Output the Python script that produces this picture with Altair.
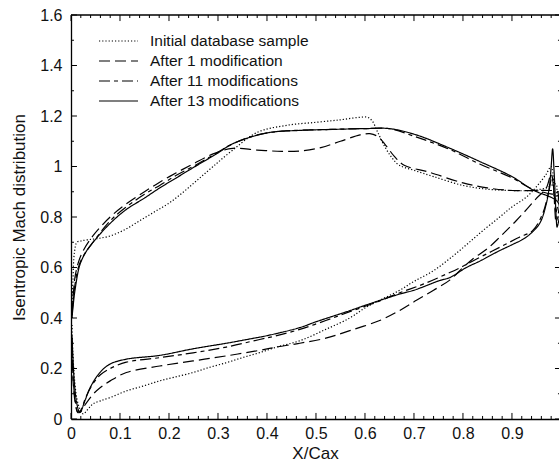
import altair as alt
import pandas as pd

FONT = "Liberation Sans"

series_names = [
    "Initial database sample",
    "After 1 modification",
    "After 11 modifications",
    "After 13 modifications",
]
dash_patterns = [[1.2, 2.0], [11, 5], [11, 4, 4, 4], [1, 0]]

# ---- Initial database sample (dotted) ----
init_suction_x = [0.002, 0.004, 0.007, 0.012, 0.02, 0.035, 0.055, 0.08, 0.11, 0.14, 0.17, 0.2, 0.23, 0.26,
                  0.29, 0.33, 0.38, 0.44, 0.5, 0.55, 0.59, 0.605, 0.615, 0.625, 0.64, 0.655, 0.67, 0.7,
                  0.74, 0.8, 0.85, 0.9, 0.94, 0.97, 0.99]
init_suction_m = [0.40, 0.55, 0.66, 0.70, 0.705, 0.71, 0.715, 0.725, 0.75, 0.785, 0.82, 0.855, 0.9, 0.95,
                  1.0, 1.065, 1.135, 1.163, 1.175, 1.185, 1.195, 1.195, 1.18, 1.14, 1.08, 1.035, 1.005, 0.985,
                  0.96, 0.925, 0.91, 0.905, 0.905, 0.915, 0.93]
init_pressure_x = [0.988, 0.98, 0.97, 0.95, 0.929, 0.9, 0.875, 0.84, 0.807, 0.773, 0.738, 0.7, 0.671, 0.63,
                   0.6, 0.569, 0.52, 0.467, 0.42, 0.385, 0.35, 0.317, 0.28, 0.249, 0.21, 0.181, 0.15, 0.113,
                   0.08, 0.06, 0.045, 0.035, 0.025, 0.018, 0.012, 0.008, 0.005, 0.003, 0.002]
init_pressure_m = [0.86, 1.0, 0.97, 0.92, 0.878, 0.84, 0.80, 0.745, 0.69, 0.635, 0.585, 0.545, 0.51, 0.47,
                   0.44, 0.40, 0.355, 0.31, 0.285, 0.263, 0.243, 0.223, 0.203, 0.184, 0.165, 0.151, 0.132, 0.111,
                   0.085, 0.072, 0.06, 0.04, 0.02, 0.04, 0.08, 0.14, 0.22, 0.3, 0.38]

# ---- After 1 modification (long dash) ----
mod1_suction_x = [0.002, 0.005, 0.008, 0.015, 0.025, 0.045, 0.08, 0.113, 0.15, 0.181, 0.215, 0.249, 0.29,
                  0.33, 0.38, 0.43, 0.47, 0.51, 0.55, 0.59, 0.61, 0.625, 0.64, 0.66, 0.68, 0.73, 0.8, 0.85,
                  0.9, 0.95, 0.975, 0.993]
mod1_suction_m = [0.42, 0.5, 0.56, 0.62, 0.667, 0.726, 0.80, 0.852, 0.90, 0.938, 0.975, 1.01, 1.05,
                  1.072, 1.065, 1.06, 1.062, 1.075, 1.1, 1.125, 1.13, 1.12, 1.09, 1.04, 1.005, 0.978, 0.935, 0.915,
                  0.905, 0.905, 0.905, 0.90]
mod1_pressure_x = [0.99, 0.98, 0.97, 0.949, 0.93, 0.909, 0.888, 0.875, 0.85, 0.82, 0.8, 0.773, 0.74, 0.705,
                   0.671, 0.63, 0.569, 0.52, 0.467, 0.42, 0.385, 0.317, 0.249, 0.181, 0.113, 0.08, 0.06, 0.045,
                   0.03, 0.02, 0.014, 0.009, 0.005, 0.003, 0.002]
mod1_pressure_m = [0.82, 0.97, 0.915, 0.872, 0.83, 0.786, 0.745, 0.72, 0.675, 0.634, 0.6, 0.55, 0.51, 0.47,
                   0.43, 0.39, 0.35, 0.32, 0.30, 0.285, 0.272, 0.25, 0.23, 0.21, 0.184, 0.151, 0.125, 0.098,
                   0.06, 0.03, 0.025, 0.06, 0.13, 0.22, 0.32]

# ---- After 11 modifications (dash-dot) ----
mod11_suction_x = [0.002, 0.005, 0.008, 0.015, 0.025, 0.045, 0.08, 0.113, 0.15, 0.181, 0.215, 0.249, 0.29,
                   0.33, 0.38, 0.43, 0.5, 0.55, 0.6, 0.65, 0.7, 0.77, 0.834, 0.9, 0.942, 0.97, 0.995]
mod11_suction_m = [0.41, 0.48, 0.53, 0.6, 0.645, 0.70, 0.785, 0.84, 0.89, 0.925, 0.965, 1.0, 1.045,
                   1.09, 1.125, 1.14, 1.145, 1.148, 1.15, 1.15, 1.12, 1.07, 1.01, 0.955, 0.91, 0.895, 0.88]
mod11_pressure_x = [0.99, 0.982, 0.975, 0.962, 0.942, 0.915, 0.888, 0.86, 0.834, 0.8, 0.773, 0.72, 0.671,
                    0.62, 0.569, 0.52, 0.467, 0.42, 0.385, 0.317, 0.249, 0.181, 0.113, 0.08, 0.06, 0.045,
                    0.03, 0.02, 0.014, 0.009, 0.005, 0.003, 0.002]
mod11_pressure_m = [0.78, 0.96, 0.90, 0.81, 0.746, 0.72, 0.693, 0.665, 0.64, 0.605, 0.58, 0.535, 0.50,
                    0.46, 0.425, 0.39, 0.355, 0.33, 0.315, 0.285, 0.262, 0.243, 0.225, 0.2, 0.175, 0.14,
                    0.085, 0.035, 0.028, 0.07, 0.14, 0.23, 0.32]

# ---- After 13 modifications (solid) ----
mod13_suction_x = [0.002, 0.005, 0.008, 0.018, 0.03, 0.045, 0.08, 0.113, 0.15, 0.181, 0.215, 0.249, 0.297,
                   0.33, 0.4, 0.467, 0.535, 0.6, 0.65, 0.705, 0.77, 0.834, 0.9, 0.942, 0.995]
mod13_suction_m = [0.40, 0.46, 0.508, 0.61, 0.66, 0.70, 0.775, 0.83, 0.875, 0.915, 0.955, 0.995, 1.05,
                   1.09, 1.133, 1.143, 1.147, 1.15, 1.15, 1.125, 1.075, 1.02, 0.96, 0.908, 0.855]
mod13_pressure_x = [0.992, 0.986, 0.983, 0.98, 0.977, 0.97, 0.956, 0.929, 0.9, 0.875, 0.834, 0.807, 0.773,
                    0.752, 0.7, 0.671, 0.6, 0.569, 0.5, 0.467, 0.4, 0.365, 0.317, 0.249, 0.181, 0.113, 0.08,
                    0.059, 0.039, 0.028, 0.018, 0.012, 0.007, 0.004, 0.002]
mod13_pressure_m = [0.76, 0.98, 1.07, 1.0, 0.931, 0.852, 0.773, 0.72, 0.69, 0.667, 0.625, 0.60, 0.56,
                    0.548, 0.51, 0.495, 0.45, 0.429, 0.385, 0.362, 0.33, 0.317, 0.30, 0.278, 0.252, 0.237, 0.218,
                    0.184, 0.124, 0.07, 0.025, 0.06, 0.14, 0.24, 0.33]

# axis tick positions
x_major = [0.0, 0.1, 0.2, 0.3, 0.4, 0.5, 0.6, 0.7, 0.8, 0.9, 1.0]
x_minor = [0.02, 0.04, 0.06, 0.08, 0.12, 0.14, 0.16, 0.18, 0.22, 0.24, 0.26, 0.28, 0.32, 0.34, 0.36, 0.38,
           0.42, 0.44, 0.46, 0.48, 0.52, 0.54, 0.56, 0.58, 0.62, 0.64, 0.66, 0.68, 0.72, 0.74, 0.76, 0.78,
           0.82, 0.84, 0.86, 0.88, 0.92, 0.94, 0.96, 0.98]
y_major = [0.0, 0.2, 0.4, 0.6, 0.8, 1.0, 1.2, 1.4, 1.6]
y_minor = [0.1, 0.3, 0.5, 0.7, 0.9, 1.1, 1.3, 1.5]

X_MAX = 0.996
Y_MAX = 1.6

rows = []
curves = [
    (series_names[0], init_suction_x + init_pressure_x, init_suction_m + init_pressure_m),
    (series_names[1], mod1_suction_x + mod1_pressure_x, mod1_suction_m + mod1_pressure_m),
    (series_names[2], mod11_suction_x + mod11_pressure_x, mod11_suction_m + mod11_pressure_m),
    (series_names[3], mod13_suction_x + mod13_pressure_x, mod13_suction_m + mod13_pressure_m),
]
for name, xs_, ms_ in curves:
    for i, (xv, mv) in enumerate(zip(xs_, ms_)):
        rows.append({"series": name, "x": xv, "m": mv, "order": i})
df = pd.DataFrame(rows)

x_len_major, x_len_minor = 0.024, 0.012   # tick lengths along y (data units)
y_len_major, y_len_minor = 0.0122, 0.0061  # tick lengths along x (data units)
xt = pd.DataFrame({"v": x_major + x_minor,
                   "len": [x_len_major] * len(x_major) + [x_len_minor] * len(x_minor)})
xt["base"] = 0.0
xt["top"] = Y_MAX
xt["top_end"] = Y_MAX - xt["len"]
yt = pd.DataFrame({"v": y_major + y_minor,
                   "len": [y_len_major] * len(y_major) + [y_len_minor] * len(y_minor)})
yt["base"] = 0.0
yt["right"] = 1.0
yt["right_end"] = 1.0 - yt["len"]
frame = pd.DataFrame({"x0": [0.0], "x1": [1.0], "ytop": [Y_MAX]})

xscale = alt.Scale(domain=[0, X_MAX], nice=False, zero=False)
yscale = alt.Scale(domain=[0, Y_MAX], nice=False, zero=False)

x_axis = alt.Axis(title="X/Cax", values=x_major, format="~g", ticks=False, grid=False,
                  domainColor="black", domainWidth=1.3, labelFont=FONT, labelFontSize=16,
                  labelColor="#111", labelPadding=6, labelOverlap=False, labelFlush=False,
                  titleFont=FONT, titleFontSize=17, titleFontWeight="normal", titleColor="#111",
                  titlePadding=4)
y_axis = alt.Axis(title="Isentropic Mach distribution", values=y_major, format="~g", ticks=False,
                  grid=False, domainColor="black", domainWidth=1.3, labelFont=FONT, labelFontSize=16,
                  labelColor="#111", labelPadding=9, labelOverlap=False, labelFlush=False,
                  titleFont=FONT, titleFontSize=17, titleFontWeight="normal", titleColor="#111",
                  titlePadding=11)

lines = alt.Chart(df).mark_line(color="black", strokeWidth=1.2, interpolate="catmull-rom", clip=True).encode(
    x=alt.X("x:Q", scale=xscale, axis=x_axis),
    y=alt.Y("m:Q", scale=yscale, axis=y_axis),
    order=alt.Order("order:Q"),
    strokeDash=alt.StrokeDash(
        "series:N",
        scale=alt.Scale(domain=series_names, range=dash_patterns),
        legend=alt.Legend(title=None, orient="none", legendX=27, legendY=18, symbolSize=1521,
                          symbolStrokeWidth=1.2, symbolStrokeColor="black", symbolType="stroke",
                          labelFont=FONT, labelFontSize=15.5, labelColor="#111", labelOffset=11,
                          rowPadding=3, clipHeight=16, symbolOffset=0, padding=0, labelLimit=400),
    ),
)

bottom_ticks = alt.Chart(xt).mark_rule(color="black", strokeWidth=1).encode(
    x=alt.X("v:Q"), y=alt.Y("base:Q"), y2=alt.Y2("len:Q"))
top_ticks = alt.Chart(xt).mark_rule(color="black", strokeWidth=1).encode(
    x=alt.X("v:Q"), y=alt.Y("top:Q"), y2=alt.Y2("top_end:Q"))
left_ticks = alt.Chart(yt).mark_rule(color="black", strokeWidth=1).encode(
    y=alt.Y("v:Q"), x=alt.X("base:Q"), x2=alt.X2("len:Q"))
right_ticks = alt.Chart(yt).mark_rule(color="black", strokeWidth=1).encode(
    y=alt.Y("v:Q"), x=alt.X("right:Q"), x2=alt.X2("right_end:Q"))
top_frame = alt.Chart(frame).mark_rule(color="black", strokeWidth=1.3).encode(
    x=alt.X("x0:Q"), x2=alt.X2("x1:Q"), y=alt.Y("ytop:Q"))

chart = alt.layer(lines, bottom_ticks, top_ticks, left_ticks, right_ticks, top_frame).properties(
    width=488, height=404,
    autosize=alt.AutoSizeParams(type="none"),
    padding={"left": 71, "top": 15, "right": 0, "bottom": 50},
    background="white",
).configure_view(stroke=None)

chart.save("out.html", embed_options={"renderer": "svg", "actions": False})
